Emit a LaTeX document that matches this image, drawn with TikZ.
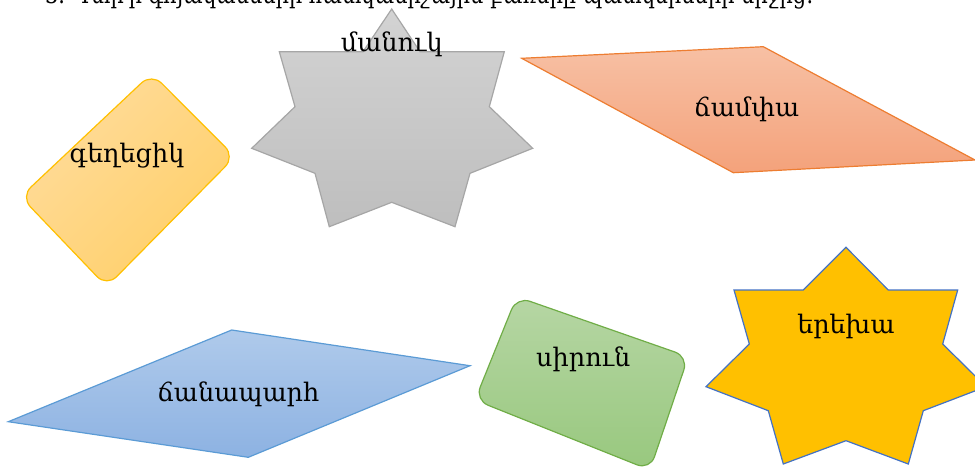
\documentclass[tikz,border=0pt]{standalone}
\usepackage{fontspec}
\setmainfont{DejaVu Serif}
\usepackage{graphicx}
\definecolor{grayT}{HTML}{D3D3D3}
\definecolor{grayB}{HTML}{BEBEBE}
\definecolor{grayL}{HTML}{A6A6A6}
\definecolor{yelT}{HTML}{FFDC9C}
\definecolor{yelB}{HTML}{FFCF68}
\definecolor{yelL}{HTML}{FFC000}
\definecolor{orT}{HTML}{F7C0A4}
\definecolor{orB}{HTML}{F4A27B}
\definecolor{orL}{HTML}{ED7D31}
\definecolor{blT}{HTML}{AFCAEB}
\definecolor{blB}{HTML}{8DB2E2}
\definecolor{blL}{HTML}{5B9BD5}
\definecolor{grT}{HTML}{B6D6A4}
\definecolor{grB}{HTML}{98C87E}
\definecolor{grL}{HTML}{70AD47}
\definecolor{gold}{HTML}{FFC000}
\definecolor{starL}{HTML}{4472C4}
\begin{document}
\begin{tikzpicture}[x=1pt,y=-1pt,
  lbl/.style={font=\fontsize{25.5}{30}\selectfont, text=black, inner sep=0pt},
  shapeline/.style={line width=1.2pt, line join=miter},
  grayshape/.style={shapeline, draw=grayL, top color=grayT, bottom color=grayB},
  yelshape/.style={shapeline, draw=yelL, shading=axis, left color=yelT, right color=yelB, shading angle=45},
  orshape/.style={shapeline, draw=orL, top color=orT, bottom color=orB},
  blshape/.style={shapeline, draw=blL, top color=blT, bottom color=blB},
  grshape/.style={shapeline, draw=grL, top color=grT, bottom color=grB},
  goldshape/.style={shapeline, draw=starL, fill=gold},
]
\useasboundingbox (0,0) rectangle (975,472);
\clip (0,0) rectangle (975,472);

% title line (cut at the top edge)
\node[lbl, anchor=base west] (title) at (45,3)
  {\resizebox{768pt}{\height}{3. Գտի՛ր գոյականների հատկանիշային բառերը պատկերների միջից։}};

% gray seven-point star
\draw[grayshape] (391.7,9) -- (420,51.7) -- (504.3,51.7) -- (489.3,106.7) -- (532.7,148.3)
  -- (470,173.3) -- (455,226.7) -- (391.7,202.3) -- (329.3,226.7) -- (315,173.3)
  -- (251.7,148.3) -- (295,106.7) -- (279.3,51.7) -- (363,51.7) -- cycle;
\node[lbl] (manuk) at (391.7,44) {մանուկ};

% yellow rounded card
\draw[yelshape, rounded corners=14pt] (193.3,115) -- (235,156.7) -- (106.7,286.7)
  -- (20.7,196.7) -- (151.7,73.3) -- cycle;
\node[lbl] (gexecik) at (127,156) {գեղեցիկ};

% orange parallelogram
\draw[orshape] (521.7,58.3) -- (763.3,46.7) -- (975,160) -- (733.3,172.7) -- cycle;
\node[lbl] (champa) at (746.7,109) {ճամփա};

% blue parallelogram
\draw[blshape] (8.3,421.7) -- (231.7,330) -- (470,365.7) -- (248.3,457.3) -- cycle;
\node[lbl] (chanapar) at (238.3,394) {ճանապարհ};

% green rounded card
\draw[grshape, rounded corners=14pt] (602.5,326.7) -- (688.3,356.7) -- (650,470)
  -- (475,400) -- (516.7,296.7) -- cycle;
\node[lbl] (sirun) at (583.3,359) {սիրուն};

% gold seven-point star
\draw[goldshape] (846,247.3) -- (888.3,290) -- (957.7,290) -- (942.7,344) -- (986,386.7)
  -- (923.3,410.7) -- (908.3,464) -- (846,440.7) -- (783.3,464) -- (768.3,410.7)
  -- (706,386.7) -- (749.3,344) -- (734,290) -- (803.3,290) -- cycle;
\node[lbl] (erexa) at (846,326) {երեխա};
\end{tikzpicture}
\end{document}
